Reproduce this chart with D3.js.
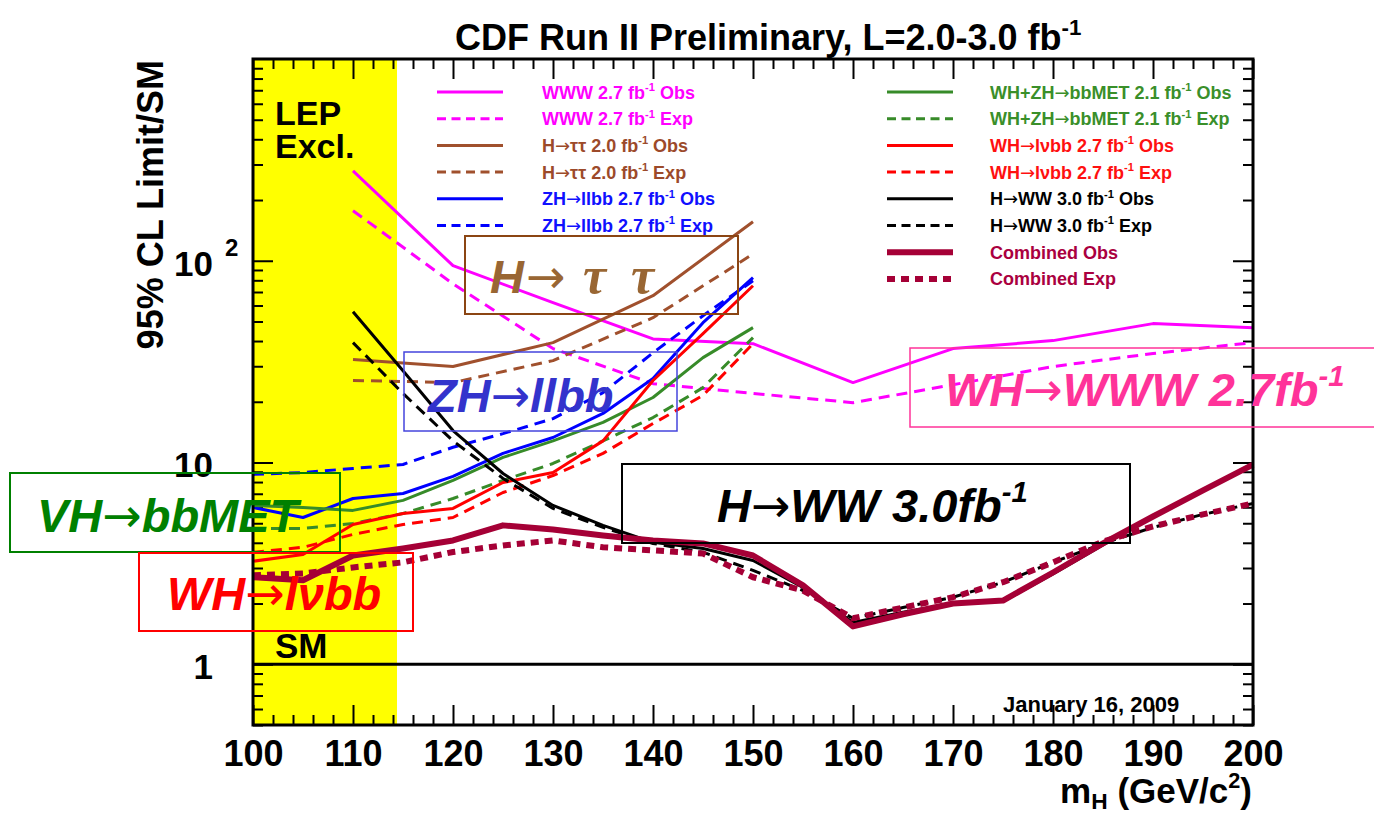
<!DOCTYPE html>
<html>
<head>
<meta charset="utf-8">
<script src="https://cdn.jsdelivr.net/npm/d3@7"></script>
<style>
  body { margin: 0; background: #fff; }
  svg { display: block; font-family: "Liberation Sans", Arial, sans-serif; }
</style>
</head>
<body>
<svg id="chart" width="1374" height="814"></svg>
<script>
// ---- data (95% CL limit / SM) ----
const massWWW = [110, 120, 130, 140, 150, 160, 170, 180, 190, 200];
const wwwObs = [279, 94.5, 62, 41, 38.8, 24.9, 36.7, 40.2, 48.8, 46.6];
const wwwExp = [177, 76.9, 36.7, 24.6, 22.0, 19.8, 24.3, 29.9, 34.7, 39.3];

const massTauTau = [110, 120, 130, 140, 150];
const tautauObs = [32.4, 29.9, 39.3, 67.1, 156];
const tautauExp = [25.5, 24.9, 32.0, 52.2, 108];

const massLow = [100, 105, 110, 115, 120, 125, 130, 135, 140, 145, 150];
const zhObs = [5.99, 5.34, 6.63, 7.02, 8.53, 11.1, 13.3, 17.5, 26.1, 49.3, 82.4];
const zhExp = [8.73, 8.92, 9.34, 9.78, 11.9, 13.9, 16.5, 22.2, 35.0, 53.4, 79.6];
const metObs = [6.13, 5.99, 5.79, 6.49, 8.15, 10.6, 12.8, 15.8, 21.0, 33.1, 46.6];
const metExp = [4.71, 4.71, 4.99, 5.59, 6.63, 8.15, 9.89, 12.8, 16.7, 23.5, 41.6];
const lvbbObs = [3.24, 3.50, 4.93, 5.59, 5.92, 7.96, 8.92, 12.8, 25.5, 43.5, 75.2];
const lvbbExp = [3.59, 3.80, 4.40, 4.93, 5.34, 7.10, 8.62, 11.1, 15.6, 21.5, 38.8];

const massHWW = [110, 115, 120, 125, 130, 135, 140, 145, 150, 155, 160, 165, 170, 175, 180, 185, 190, 195, 200];
const hwwObs = [55.9, 28.5, 14.4, 8.82, 6.13, 4.88, 4.02, 3.75, 3.27, 2.40, 1.61, 1.81, 2.00, 2.05, 2.80, 3.90, 5.40, 7.30, 9.89];
const hwwExp = [39.3, 22.0, 12.8, 8.34, 5.92, 4.77, 3.97, 3.59, 2.92, 2.32, 1.69, 1.91, 2.15, 2.55, 3.20, 3.97, 4.77, 5.53, 6.27];

const massAll = [100, 105, 110, 115, 120, 125, 130, 135, 140, 145, 150, 155, 160, 165, 170, 175, 180, 185, 190, 195, 200];
const combObs = [2.70, 2.61, 3.46, 3.75, 4.11, 4.88, 4.66, 4.35, 4.11, 3.97, 3.46, 2.46, 1.54, 1.77, 2.00, 2.07, 2.85, 3.97, 5.40, 7.27, 9.77];
const combExp = [2.76, 2.82, 3.02, 3.20, 3.60, 3.88, 4.11, 3.80, 3.67, 3.54, 2.70, 2.32, 1.69, 1.91, 2.15, 2.55, 3.20, 4.06, 4.82, 5.53, 6.27];

const lepLimit = 114.4;
const smValue = 1;

const xTickValues = [100, 110, 120, 130, 140, 150, 160, 170, 180, 190, 200];
const yTickValues = [1, 10, 100];

const legendLeftLabels = [
  'WWW 2.7 fb^{-1} Obs', 'WWW 2.7 fb^{-1} Exp',
  'H→ττ 2.0 fb^{-1} Obs', 'H→ττ 2.0 fb^{-1} Exp',
  'ZH→llbb 2.7 fb^{-1} Obs', 'ZH→llbb 2.7 fb^{-1} Exp',
];
const legendRightLabels = [
  'WH+ZH→bbMET 2.1 fb^{-1} Obs', 'WH+ZH→bbMET 2.1 fb^{-1} Exp',
  'WH→lνbb 2.7 fb^{-1} Obs', 'WH→lνbb 2.7 fb^{-1} Exp',
  'H→WW 3.0 fb^{-1} Obs', 'H→WW 3.0 fb^{-1} Exp',
  'Combined Obs', 'Combined Exp',
];

// ---- styles ----
const MAGENTA = '#ff00ff';
const BROWN = '#a0502d';
const BLUE = '#0000ff';
const GREEN = '#378b29';
const RED = '#ff0000';
const BLACK = '#000000';
const CRIMSON = '#a50036';

const series = [
  {mass: massWWW, vals: wwwObs, color: MAGENTA, width: 3, dash: null},
  {mass: massWWW, vals: wwwExp, color: MAGENTA, width: 3, dash: '11,7'},
  {mass: massTauTau, vals: tautauObs, color: BROWN, width: 3, dash: null},
  {mass: massTauTau, vals: tautauExp, color: BROWN, width: 3, dash: '11,7'},
  {mass: massLow, vals: zhObs, color: BLUE, width: 3, dash: null},
  {mass: massLow, vals: zhExp, color: BLUE, width: 3, dash: '11,7'},
  {mass: massLow, vals: metObs, color: GREEN, width: 3, dash: null},
  {mass: massLow, vals: metExp, color: GREEN, width: 3, dash: '11,7'},
  {mass: massLow, vals: lvbbObs, color: RED, width: 3, dash: null},
  {mass: massLow, vals: lvbbExp, color: RED, width: 3, dash: '11,7'},
  {mass: massHWW, vals: hwwObs, color: BLACK, width: 3, dash: null},
  {mass: massHWW, vals: hwwExp, color: BLACK, width: 3, dash: '11,7'},
  {mass: massAll, vals: combObs, color: CRIMSON, width: 6, dash: null},
  {mass: massAll, vals: combExp, color: CRIMSON, width: 6, dash: '8,6'},
];

// text with ^{sup} / _{sub} markup and long thin arrows
const richText = (textSel, str, fontSize) => {
  const tokens = str.match(/\^\{[^}]*\}|_\{[^}]*\}|→|[^^_→]+/g);
  let shift = 0;
  tokens.forEach((tok) => {
    const span = textSel.append('tspan');
    let target = 0;
    if (tok.startsWith('^{')) {
      target = -0.42 * fontSize;
      span.attr('font-size', fontSize * 0.62).text(tok.slice(2, -1));
    } else if (tok.startsWith('_{')) {
      target = 0.18 * fontSize;
      span.attr('font-size', fontSize * 0.65).text(tok.slice(2, -1));
    } else if (tok === '→') {
      span.attr('font-family', '"DejaVu Sans", sans-serif')
        .attr('font-weight', 'normal').attr('font-style', 'normal').text(tok);
    } else {
      span.text(tok);
    }
    span.attr('dy', target - shift);
    shift = target;
  });
};

const svg = d3.select('#chart');

const plot = {left: 253, right: 1253, top: 59, bottom: 725};

const x = d3.scaleLinear().domain([100, 200]).range([plot.left, plot.right]);
const y = d3.scaleLog().domain([0.5, 1000]).range([plot.bottom, plot.top]);

// LEP exclusion band
svg.append('rect')
  .attr('x', x(100))
  .attr('y', plot.top)
  .attr('width', x(lepLimit) - x(100))
  .attr('height', plot.bottom - plot.top)
  .attr('fill', '#ffff00');

// ---- axes (ROOT style: ticks inside on all four sides) ----
const xMinor = d3.range(100, 201, 2).filter(v => !xTickValues.includes(v));
const yMinor = [0.1, 1, 10, 100]
  .flatMap(d => [2, 3, 4, 5, 6, 7, 8, 9].map(k => k * d))
  .filter(v => v >= 0.5 && v <= 1000);

const styleAxis = (g) => {
  g.select('.domain').remove();
  g.selectAll('line').attr('stroke', '#000').attr('stroke-width', 2);
  g.attr('font-family', null).attr('font-size', null);
};

svg.append('g')
  .attr('transform', `translate(0,${plot.bottom})`)
  .call(d3.axisBottom(x).tickValues(xMinor).tickSizeInner(-10).tickSizeOuter(0).tickFormat(''))
  .call(styleAxis);

const xAxisG = svg.append('g')
  .attr('transform', `translate(0,${plot.bottom})`)
  .call(d3.axisBottom(x).tickValues(xTickValues).tickSizeInner(-20).tickSizeOuter(0).tickPadding(15).tickFormat(d3.format('d')))
  .call(styleAxis);
xAxisG.selectAll('text').attr('font-size', 36).attr('font-weight', 'bold').attr('fill', '#000');

svg.append('g')
  .attr('transform', `translate(0,${plot.top})`)
  .call(d3.axisTop(x).tickValues(xMinor).tickSizeInner(-10).tickSizeOuter(0).tickFormat(''))
  .call(styleAxis);
svg.append('g')
  .attr('transform', `translate(0,${plot.top})`)
  .call(d3.axisTop(x).tickValues(xTickValues).tickSizeInner(-20).tickSizeOuter(0).tickFormat(''))
  .call(styleAxis);

svg.append('g')
  .attr('transform', `translate(${plot.left},0)`)
  .call(d3.axisLeft(y).tickValues(yMinor).tickSizeInner(-10).tickSizeOuter(0).tickFormat(''))
  .call(styleAxis);

const yAxisG = svg.append('g')
  .attr('transform', `translate(${plot.left},0)`)
  .call(d3.axisLeft(y).tickValues(yTickValues).tickSizeInner(-20).tickSizeOuter(0).tickPadding(40)
    .tickFormat(d => (d === 100 ? '10' : String(d))))
  .call(styleAxis);
yAxisG.selectAll('text')
  .attr('font-size', 35).attr('font-weight', 'bold').attr('fill', '#000').attr('dy', '0.41em');
yAxisG.selectAll('.tick').filter(d => d === 100)
  .append('text')
  .attr('x', -28).attr('y', -5)
  .attr('text-anchor', 'start')
  .attr('font-size', 24).attr('font-weight', 'bold').attr('fill', '#000')
  .text('2');

svg.append('g')
  .attr('transform', `translate(${plot.right},0)`)
  .call(d3.axisRight(y).tickValues(yMinor).tickSizeInner(-10).tickSizeOuter(0).tickFormat(''))
  .call(styleAxis);
svg.append('g')
  .attr('transform', `translate(${plot.right},0)`)
  .call(d3.axisRight(y).tickValues(yTickValues).tickSizeInner(-20).tickSizeOuter(0).tickFormat(''))
  .call(styleAxis);

// SM reference line
svg.append('line')
  .attr('x1', plot.left).attr('x2', plot.right)
  .attr('y1', y(smValue)).attr('y2', y(smValue))
  .attr('stroke', '#000').attr('stroke-width', 3);

// ---- limit curves ----
const line = d3.line().x(d => x(d.m)).y(d => y(d.v));

svg.append('g')
  .selectAll('path')
  .data(series)
  .join('path')
  .attr('d', s => line(s.mass.map((m, i) => ({m, v: s.vals[i]}))))
  .attr('fill', 'none')
  .attr('stroke', s => s.color)
  .attr('stroke-width', s => s.width)
  .attr('stroke-dasharray', s => s.dash)
  .attr('stroke-linejoin', 'round');

// frame
svg.append('rect')
  .attr('x', plot.left).attr('y', plot.top)
  .attr('width', plot.right - plot.left).attr('height', plot.bottom - plot.top)
  .attr('fill', 'none').attr('stroke', '#000').attr('stroke-width', 3);

// ---- in-plot labels ----
const boldText = (tx, ty, str, size, color = '#000') => {
  const t = svg.append('text')
    .attr('x', tx).attr('y', ty)
    .attr('font-size', size).attr('font-weight', 'bold').attr('fill', color);
  richText(t, str, size);
  return t;
};

boldText(275, 125, 'LEP', 34);
boldText(275, 158, 'Excl.', 34);
boldText(275, 658, 'SM', 35);
boldText(1003, 712, 'January 16, 2009', 22);

// ---- legend ----
const legendColors = [MAGENTA, MAGENTA, BROWN, BROWN, BLUE, BLUE];
const legendColorsRight = [GREEN, GREEN, RED, RED, BLACK, BLACK, CRIMSON, CRIMSON];
const legendTextColors = ['#ff00ff', '#ff00ff', '#9c4a2a', '#9c4a2a', '#1010ff', '#1010ff'];
const legendTextColorsRight = ['#3a8f2a', '#3a8f2a', '#ff1010', '#ff1010', '#000', '#000', '#aa0040', '#aa0040'];

const drawLegend = (labels, seriesOffset, lineX, textX, lineColors, textColors) => {
  labels.forEach((lab, i) => {
    const s = series[seriesOffset + i];
    const ry = 92 + i * 26.7;
    svg.append('line')
      .attr('x1', lineX).attr('x2', lineX + 66)
      .attr('y1', ry).attr('y2', ry)
      .attr('stroke', lineColors[i])
      .attr('stroke-width', s.width)
      .attr('stroke-dasharray', s.dash ? (s.width > 3 ? '8,6' : '9,5.5') : null);
    boldText(textX, ry + 6.5, lab, 18, textColors[i]);
  });
};
drawLegend(legendLeftLabels, 0, 437, 542, legendColors, legendTextColors);
drawLegend(legendRightLabels, 6, 887, 990, legendColorsRight, legendTextColorsRight);

// ---- channel annotation boxes ----
const boxes = [
  {x0: 465, y0: 236, x1: 738, y1: 314, stroke: '#8b4513', w: 2},
  {x0: 404, y0: 352, x1: 677, y1: 431, stroke: '#4444dd', w: 1.5},
  {x0: 910, y0: 348, x1: 1380, y1: 427, stroke: '#ff3399', w: 1.5},
  {x0: 622, y0: 464, x1: 1130, y1: 543, stroke: '#000', w: 2},
  {x0: 10, y0: 473, x1: 340, y1: 552, stroke: '#008000', w: 2},
  {x0: 139, y0: 553, x1: 413, y1: 631, stroke: '#ff0000', w: 2},
];
svg.append('g')
  .selectAll('rect')
  .data(boxes)
  .join('rect')
  .attr('x', b => b.x0).attr('y', b => b.y0)
  .attr('width', b => b.x1 - b.x0).attr('height', b => b.y1 - b.y0)
  .attr('fill', 'none')
  .attr('stroke', b => b.stroke)
  .attr('stroke-width', b => b.w);

const bigLabel = (tx, ty, str, color) => {
  const t = svg.append('text')
    .attr('x', tx).attr('y', ty)
    .attr('font-size', 47).attr('font-weight', 'bold').attr('font-style', 'italic')
    .attr('fill', color);
  richText(t, str, 47);
};
bigLabel(428, 412, 'ZH→llbb', '#3333cc');
bigLabel(945, 406, 'WH→WWW 2.7fb^{-1}', '#ff3399');
bigLabel(717, 522, 'H→WW 3.0fb^{-1}', '#000');
bigLabel(37, 532, 'VH→bbMET', '#008000');
bigLabel(167, 610, 'WH→lνbb', '#ff0000');

// H -> tau tau, taus in a serif italic
const tauLabel = svg.append('text')
  .attr('y', 293).attr('font-size', 47).attr('fill', '#996633');
tauLabel.append('tspan').attr('x', 490).attr('font-weight', 'bold').attr('font-style', 'italic').text('H');
tauLabel.append('tspan').attr('x', 526).attr('font-family', '"DejaVu Sans", sans-serif').text('→');
tauLabel.append('tspan').attr('x', 583).attr('font-family', '"Liberation Serif", serif')
  .attr('font-style', 'italic').attr('font-weight', 'bold').attr('font-size', 52).text('τ');
tauLabel.append('tspan').attr('x', 631).attr('font-family', '"Liberation Serif", serif')
  .attr('font-style', 'italic').attr('font-weight', 'bold').attr('font-size', 52).text('τ');

// ---- titles ----
boldText(455, 50, 'CDF Run II Preliminary, L=2.0-3.0 fb^{-1}', 36);

svg.append('text')
  .attr('transform', 'translate(163,60) rotate(-90)')
  .attr('text-anchor', 'end')
  .attr('font-size', 36).attr('font-weight', 'bold')
  .text('95% CL Limit/SM');

const xTitle = svg.append('text')
  .attr('x', 1252).attr('y', 803)
  .attr('text-anchor', 'end')
  .attr('font-size', 35).attr('font-weight', 'bold');
richText(xTitle, 'm_{H} (GeV/c^{2})', 35);
</script>
</body>
</html>
